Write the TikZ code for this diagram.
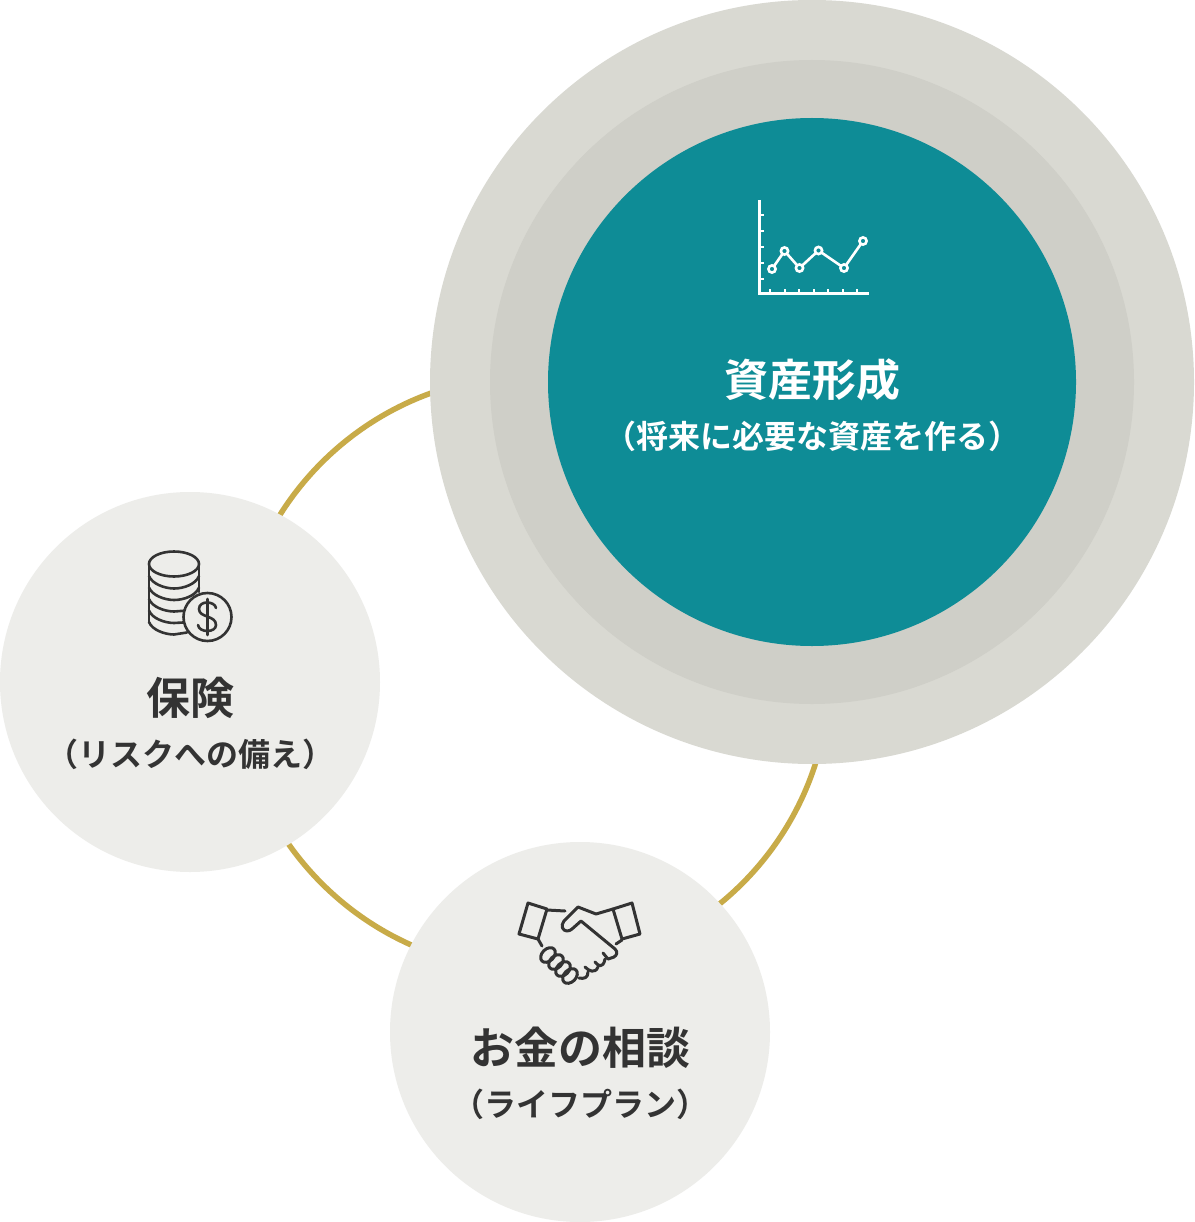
\documentclass[tikz,border=0pt]{standalone}
\usepackage{fontspec}
\newfontfamily\jpb{Noto Sans CJK JP Bold}
\definecolor{teal0}{HTML}{0E8C96}
\definecolor{ringa}{HTML}{D9D9D2}
\definecolor{ringb}{HTML}{CFCFC8}
\definecolor{pale}{HTML}{EDEDEA}
\definecolor{gold}{HTML}{C8AB48}
\definecolor{ink}{HTML}{333333}
\tikzset{
  disc/.style={circle,draw=none,inner sep=0pt,minimum size=#1},
  title/.style={font=\jpb\fontsize{44}{44}\selectfont,inner sep=0pt,anchor=center},
  sub/.style={font=\jpb\fontsize{32}{32}\selectfont,inner sep=0pt,anchor=center},
  icon/.style={line width=2.6pt,line cap=round,line join=round,draw=ink},
  iconw/.style={line width=3pt,line cap=butt,line join=miter,draw=white},
}
\begin{document}
\begin{tikzpicture}[x=1pt,y=-1pt]
\useasboundingbox (0,0) rectangle (1194,1222);
\fill[white] (0,0) rectangle (1194,1222);
\node[disc=595pt,draw=gold,line width=5.5pt] (ring) at (532,673) {};
\node[disc=764pt,fill=ringa] (outer) at (812,382) {};
\node[disc=644pt,fill=ringb] (middle) at (812,382) {};
\node[disc=528pt,fill=teal0] (core) at (812,382) {};
\node[disc=380pt,fill=pale] (ins) at (190,682) {};
\node[disc=380pt,fill=pale] (talk) at (580,1032) {};
\node[title,white] (t1) at (812,380) {資産形成};
\node[sub,white] (s1) at (812,436) {（将来に必要な資産を作る）};
\node[title,ink] (t2) at (190,698) {保険};
\node[sub,ink] (s2) at (190,754) {（リスクへの備え）};
\node[title,ink] (t3) at (580,1048) {お金の相談};
\node[sub,ink] (s3) at (580,1104) {（ライフプラン）};
% chart icon
\draw[iconw] (759.5,200) -- (759.5,293.5) -- (868.5,293.5);
\foreach \y in {215,231,247,263,279} \draw[white,line width=2pt] (760,\y) -- (763.5,\y);
\foreach \x in {770,784.5,799,813.5,828,842.5,857} \draw[white,line width=2pt] (\x,293) -- (\x,289);
\draw[white,line width=2.6pt] (772,269) -- (784.5,251) -- (799.5,268) -- (818.5,250.5) -- (844,268) -- (863,241);
\foreach \p in {(772,269),(784.5,251),(799.5,268),(818.5,250.5),(844,268),(863,241)}
  \draw[white,line width=2.6pt,fill=teal0] \p circle (3.6pt);
% coins icon
\begin{scope}[icon]
\draw (149,564) arc[start angle=180,end angle=-180,x radius=25,y radius=12.5];
\draw (149,564) -- (149,622);
\draw (199,564) -- (199,592);
\draw (149,576) .. controls (152,584) and (165,588.5) .. (174,588.5) .. controls (184,588.5) and (196,584) .. (199,576);
\draw (149,587.5) .. controls (152,595.5) and (165,600) .. (174,600) .. controls (184,600) and (196,595.5) .. (199,587.5);
\draw (149,599) .. controls (152,607) and (165,611.5) .. (174,611.5) -- (187,610.5);
\draw (149,610.5) .. controls (152,618.5) and (165,623) .. (174,623) -- (183,622.5);
\draw (149,622) .. controls (152,630) and (165,634.5) .. (174,634.5) -- (187,632.5);
\draw[fill=pale] (207.5,617) circle (24pt);
\draw (207.5,599) -- (207.5,635);
\draw (216,608) .. controls (215,601) and (199,600) .. (199,609) .. controls (199,618) and (216,615) .. (216,625) .. controls (216,633) and (199,633) .. (198,625);
\end{scope}
% handshake icon
\begin{scope}[icon,line width=3pt]
\draw (528,903) -- (547,909) -- (538,939) -- (519,934) -- cycle;
\draw (547,910) -- (565,911);
\draw (538,939) -- (542,946);
\draw (613,909) -- (632,903) -- (640,934) -- (622,939) -- cycle;
\draw (613,909) -- (596,914) -- (578,907) -- (564,921) .. controls (560,926) and (563,931) .. (567,931) .. controls (569,931) and (571,930) .. (572,929) -- (581,921) -- (615,949) .. controls (618,952) and (617,955) .. (614,957) -- (608,959);
\draw (622,940) -- (616,944);
\draw (603,953) -- (608,959);
\draw (605,959) .. controls (603,969) and (598,966) .. (595,962);
\draw (598,967) .. controls (595,974) and (589,971) .. (585,967);
\draw (588,972) .. controls (588,978) and (584,979) .. (579,978);
\foreach \c in {{(548,955)},{(556,962)},{(563,969)},{(570,976)}}
  \draw[rotate around={45:\c}] \c ellipse (8.5pt and 6pt);
\end{scope}
\end{tikzpicture}
\end{document}
